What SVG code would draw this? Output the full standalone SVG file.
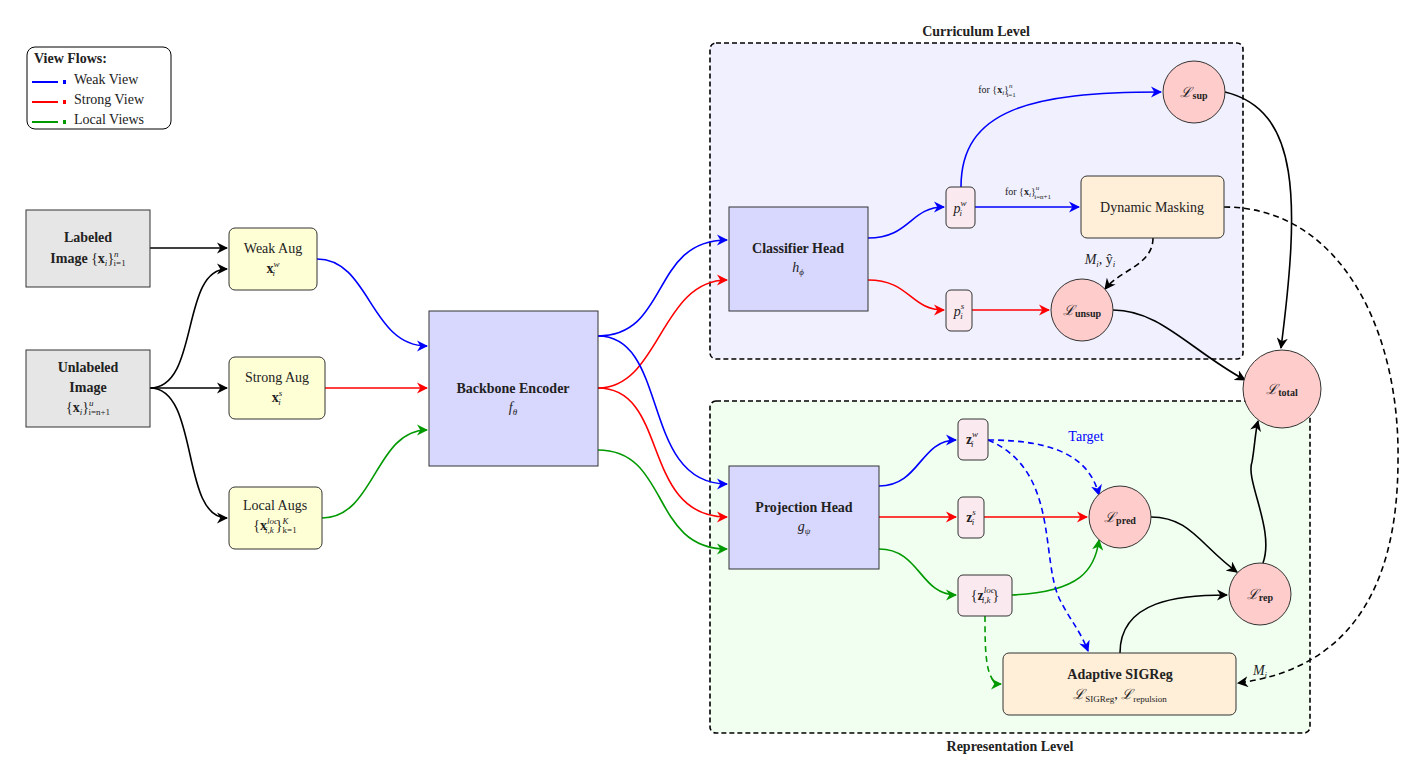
<svg xmlns="http://www.w3.org/2000/svg" width="1425" height="780" viewBox="0 0 1425 780">
<style>
text{font-family:"Liberation Serif","DejaVu Serif",serif;font-size:14px;fill:#222}
.b{font-weight:bold}
.i{font-style:italic}
.sm{font-size:10px}
.box{stroke:#333;stroke-width:1}
.c{fill:none;stroke-width:1.6}
.k{stroke:#000}.bl{stroke:#00f}.rd{stroke:#f00}.gr{stroke:#090}
.d{stroke-dasharray:6,4}
</style>
<defs>
<marker id="ak" viewBox="0 0 10 10" refX="9" refY="5" markerWidth="7" markerHeight="7" orient="auto"><path d="M0,0 L10,5 L0,10 L3,5z" fill="#000"/></marker>
<marker id="ab" viewBox="0 0 10 10" refX="9" refY="5" markerWidth="7" markerHeight="7" orient="auto"><path d="M0,0 L10,5 L0,10 L3,5z" fill="#00f"/></marker>
<marker id="ar" viewBox="0 0 10 10" refX="9" refY="5" markerWidth="7" markerHeight="7" orient="auto"><path d="M0,0 L10,5 L0,10 L3,5z" fill="#f00"/></marker>
<marker id="ag" viewBox="0 0 10 10" refX="9" refY="5" markerWidth="7" markerHeight="7" orient="auto"><path d="M0,0 L10,5 L0,10 L3,5z" fill="#090"/></marker>
</defs>
<rect width="1425" height="780" fill="#fff"/>
<g id="levels">
<rect x="710" y="43" width="533" height="316" rx="6" fill="#f0f0ff" stroke="#000" stroke-width="1.6" stroke-dasharray="5,3"/>
<text x="976" y="36" text-anchor="middle" class="b">Curriculum Level</text>
<rect x="710" y="401" width="600" height="332" rx="6" fill="#f0fff0" stroke="#000" stroke-width="1.6" stroke-dasharray="5,3"/>
<text x="1010" y="751" text-anchor="middle" class="b">Representation Level</text>
</g>
<g id="legend">
<rect x="27" y="47" width="144" height="82" rx="8" fill="#fff" stroke="#000"/>
<text x="34" y="63" class="b">View Flows:</text>
<line x1="32" y1="82" x2="58" y2="82" stroke="#00f" stroke-width="2"/><rect x="63" y="80" width="3" height="4" fill="#00f"/><text x="74" y="84">Weak View</text>
<line x1="32" y1="102" x2="58" y2="102" stroke="#f00" stroke-width="2"/><rect x="63" y="100" width="3" height="4" fill="#f00"/><text x="74" y="104">Strong View</text>
<line x1="32" y1="122" x2="58" y2="122" stroke="#090" stroke-width="2"/><rect x="63" y="120" width="3" height="4" fill="#090"/><text x="74" y="124">Local Views</text>
</g>
<g id="connectors">
<path class="c k" d="M150,248 H227" marker-end="url(#ak)"/>
<path class="c k" d="M150,388 C200,388 180,269 227,269" marker-end="url(#ak)"/>
<path class="c k" d="M150,388 H227" marker-end="url(#ak)"/>
<path class="c k" d="M150,388 C200,388 180,518 227,518" marker-end="url(#ak)"/>
<path class="c bl" d="M317,259 C370,259 370,346 427,346" marker-end="url(#ab)"/>
<path class="c rd" d="M325,388 H427" marker-end="url(#ar)"/>
<path class="c gr" d="M322,518 C375,518 375,430 427,430" marker-end="url(#ag)"/>
<path class="c bl" d="M598,336 C670,336 650,240 727,240" marker-end="url(#ab)"/>
<path class="c rd" d="M598,388 C660,388 660,280 727,280" marker-end="url(#ar)"/>
<path class="c bl" d="M598,336 C670,336 640,484 727,484" marker-end="url(#ab)"/>
<path class="c rd" d="M598,388 C670,388 640,517 727,517" marker-end="url(#ar)"/>
<path class="c gr" d="M598,450 C670,450 650,549 727,549" marker-end="url(#ag)"/>
<path class="c bl" d="M868,238 C910,238 910,207 944,207" marker-end="url(#ab)"/>
<path class="c rd" d="M868,280 C910,280 910,310 944,310" marker-end="url(#ar)"/>
<path class="c bl" d="M961,187 C961,110 1030,92 1161,92" marker-end="url(#ab)"/>
<path class="c bl" d="M975,207 H1079" marker-end="url(#ab)"/>
<path class="c rd" d="M972,310 H1049" marker-end="url(#ar)"/>
<path class="c k d" d="M1153,238 C1153,265 1120,270 1105,289" marker-end="url(#ak)"/>
<path class="c k" d="M1225,92 C1300,110 1300,200 1281,348" marker-end="url(#ak)"/>
<path class="c k" d="M1113,310 C1160,310 1190,350 1245,380" marker-end="url(#ak)"/>
<path class="c k d" d="M1224,207 C1340,207 1400,330 1398,460 C1398,600 1340,670 1238,683" marker-end="url(#ak)"/>
<path class="c bl" d="M879,486 C920,486 920,440 956,440" marker-end="url(#ab)"/>
<path class="c rd" d="M879,517 H956" marker-end="url(#ar)"/>
<path class="c gr" d="M879,549 C920,549 920,595 956,595" marker-end="url(#ag)"/>
<path class="c bl d" d="M988,440 C1060,440 1090,460 1099,495" marker-end="url(#ab)"/>
<path class="c rd" d="M984,517 H1087" marker-end="url(#ar)"/>
<path class="c gr" d="M1012,595 C1080,592 1095,570 1099,540" marker-end="url(#ag)"/>
<path class="c bl d" d="M988,440 C1060,470 1040,560 1060,600 C1070,620 1080,630 1088,651" marker-end="url(#ab)"/>
<path class="c gr d" d="M985,616 C985,650 985,684 1001,684" marker-end="url(#ag)"/>
<path class="c k" d="M1151,517 C1190,517 1200,545 1237,572" marker-end="url(#ak)"/>
<path class="c k" d="M1120,653 C1120,600 1180,595 1227,595" marker-end="url(#ak)"/>
<path class="c k" d="M1263,563 C1275,530 1245,480 1252,462 C1255,445 1255,433 1258,421" marker-end="url(#ak)"/>
<text x="997" y="93" text-anchor="middle" class="sm">for {<tspan class="b">x</tspan><tspan class="i" font-size="7" dy="2">i</tspan><tspan dy="-2">}</tspan><tspan class="i" font-size="7" dy="-5">n</tspan><tspan font-size="7" dy="9" dx="-6">i=1</tspan></text>
<text x="1028" y="195" text-anchor="middle" class="sm">for {<tspan class="b">x</tspan><tspan class="i" font-size="7" dy="2">i</tspan><tspan dy="-2">}</tspan><tspan class="i" font-size="7" dy="-5">u</tspan><tspan font-size="7" dy="9" dx="-5">i=n+1</tspan></text>
<text x="1100" y="264" text-anchor="middle" class="i">M<tspan font-size="9" dy="3">i</tspan><tspan font-style="normal" dy="-3">, ŷ</tspan><tspan font-size="9" dy="3">i</tspan></text>
<text x="1086" y="441" text-anchor="middle" fill="#00f" style="fill:#00f">Target</text>
<text x="1260" y="675" text-anchor="middle" class="i">M<tspan font-size="9" dy="3">i</tspan></text>
</g>
<g id="labeled"><rect x="26" y="210" width="124" height="77" fill="#e6e6e6" class="box"/>
<text x="88" y="242" text-anchor="middle" class="b">Labeled</text>
<text x="88" y="263" text-anchor="middle"><tspan class="b">Image </tspan>{<tspan class="b">x</tspan><tspan class="i" font-size="9" dy="3">i</tspan><tspan dy="-3">}</tspan><tspan class="i" font-size="9" dy="-6">n</tspan><tspan font-size="9" dy="9" dx="-5">i=1</tspan></text></g>
<g id="unlabeled"><rect x="26" y="350" width="124" height="77" fill="#e6e6e6" class="box"/>
<text x="88" y="372" text-anchor="middle" class="b">Unlabeled</text>
<text x="88" y="392" text-anchor="middle" class="b">Image</text>
<text x="88" y="412" text-anchor="middle">{<tspan class="b">x</tspan><tspan class="i" font-size="9" dy="3">i</tspan><tspan dy="-3">}</tspan><tspan class="i" font-size="9" dy="-6">u</tspan><tspan font-size="9" dy="9" dx="-5">i=n+1</tspan></text></g>
<g id="weakaug"><rect x="229" y="228" width="88" height="62" rx="6" fill="#ffffd6" class="box"/>
<text x="273" y="253" text-anchor="middle">Weak Aug</text>
<text x="273" y="273" text-anchor="middle"><tspan class="b">x</tspan><tspan class="i" font-size="9" dy="-6">w</tspan><tspan class="i" font-size="9" dy="9" dx="-7">i</tspan></text></g>
<g id="strongaug"><rect x="229" y="357" width="96" height="62" rx="6" fill="#ffffd6" class="box"/>
<text x="277" y="382" text-anchor="middle">Strong Aug</text>
<text x="277" y="402" text-anchor="middle"><tspan class="b">x</tspan><tspan class="i" font-size="9" dy="-6">s</tspan><tspan class="i" font-size="9" dy="9" dx="-4">i</tspan></text></g>
<g id="localaugs"><rect x="229" y="487" width="93" height="62" rx="6" fill="#ffffd6" class="box"/>
<text x="275" y="510" text-anchor="middle">Local Augs</text>
<text x="275" y="530" text-anchor="middle">{<tspan class="b">x</tspan><tspan class="i" font-size="9" dy="-6">loc</tspan><tspan class="i" font-size="9" dy="9" dx="-13">i,k</tspan><tspan dy="-3" dx="2">}</tspan><tspan class="i" font-size="9" dy="-6">K</tspan><tspan font-size="9" dy="9" dx="-6">k=1</tspan></text></g>
<g id="backbone"><rect x="429" y="311" width="169" height="155" fill="#d8d8ff" class="box"/>
<text x="513" y="393" text-anchor="middle" class="b">Backbone Encoder</text>
<text x="513" y="412" text-anchor="middle" class="i">f<tspan font-size="9" dy="3">θ</tspan></text></g>
<g id="classifier"><rect x="729" y="207" width="139" height="104" fill="#d8d8ff" class="box"/>
<text x="798" y="253" text-anchor="middle" class="b">Classifier Head</text>
<text x="798" y="272" text-anchor="middle" class="i">h<tspan font-size="9" dy="3">ϕ</tspan></text></g>
<g id="projection"><rect x="729" y="466" width="150" height="103" fill="#d8d8ff" class="box"/>
<text x="804" y="512" text-anchor="middle" class="b">Projection Head</text>
<text x="804" y="531" text-anchor="middle" class="i">g<tspan font-size="9" dy="3">ψ</tspan></text></g>
<g id="pw"><rect x="946" y="187" width="29" height="41" rx="5" fill="#fbe9f0" class="box"/>
<text x="960" y="213" text-anchor="middle" class="i">p<tspan font-size="9" dy="-7">w</tspan><tspan font-size="9" dy="10" dx="-7">i</tspan></text></g>
<g id="ps"><rect x="946" y="290" width="26" height="41" rx="5" fill="#fbe9f0" class="box"/>
<text x="959" y="316" text-anchor="middle" class="i">p<tspan font-size="9" dy="-7">s</tspan><tspan font-size="9" dy="10" dx="-4">i</tspan></text></g>
<g id="masking"><rect x="1081" y="176" width="143" height="62" rx="6" fill="#ffeed8" class="box"/>
<text x="1152" y="212" text-anchor="middle">Dynamic Masking</text></g>
<g id="lsup"><circle cx="1194" cy="92" r="31" fill="#ffcccc" class="box"/>
<text x="1194" y="97" text-anchor="middle"><tspan class="i">ℒ</tspan><tspan class="b" font-size="10" dy="2">sup</tspan></text></g>
<g id="lunsup"><circle cx="1082" cy="310" r="31" fill="#ffcccc" class="box"/>
<text x="1082" y="315" text-anchor="middle"><tspan class="i">ℒ</tspan><tspan class="b" font-size="10" dy="2">unsup</tspan></text></g>
<g id="ltotal"><circle cx="1282" cy="389" r="39" fill="#ffcccc" class="box"/>
<text x="1282" y="394" text-anchor="middle"><tspan class="i">ℒ</tspan><tspan class="b" font-size="10" dy="2">total</tspan></text></g>
<g id="zw"><rect x="958" y="419" width="30" height="41" rx="5" fill="#fbe9f0" class="box"/>
<text x="972" y="444" text-anchor="middle"><tspan class="b">z</tspan><tspan class="i" font-size="9" dy="-7">w</tspan><tspan class="i" font-size="9" dy="10" dx="-7">i</tspan></text></g>
<g id="zs"><rect x="958" y="497" width="26" height="41" rx="5" fill="#fbe9f0" class="box"/>
<text x="971" y="522" text-anchor="middle"><tspan class="b">z</tspan><tspan class="i" font-size="9" dy="-7">s</tspan><tspan class="i" font-size="9" dy="10" dx="-4">i</tspan></text></g>
<g id="zloc"><rect x="958" y="575" width="54" height="41" rx="5" fill="#fbe9f0" class="box"/>
<text x="985" y="600" text-anchor="middle">{<tspan class="b">z</tspan><tspan class="i" font-size="9" dy="-7">loc</tspan><tspan class="i" font-size="9" dy="10" dx="-13">i,k</tspan><tspan dy="-3" dx="2">}</tspan></text></g>
<g id="lpred"><circle cx="1120" cy="517" r="31" fill="#ffcccc" class="box"/>
<text x="1120" y="522" text-anchor="middle"><tspan class="i">ℒ</tspan><tspan class="b" font-size="10" dy="2">pred</tspan></text></g>
<g id="lrep"><circle cx="1260" cy="594" r="31" fill="#ffcccc" class="box"/>
<text x="1260" y="599" text-anchor="middle"><tspan class="i">ℒ</tspan><tspan class="b" font-size="10" dy="2">rep</tspan></text></g>
<g id="sigreg"><rect x="1003" y="653" width="233" height="62" rx="6" fill="#ffeed8" class="box"/>
<text x="1120" y="679" text-anchor="middle" class="b">Adaptive SIGReg</text>
<text x="1120" y="699" text-anchor="middle"><tspan class="i">ℒ</tspan><tspan font-size="9" dy="3">SIGReg</tspan><tspan dy="-3">, </tspan><tspan class="i">ℒ</tspan><tspan font-size="9" dy="3">repulsion</tspan></text></g>
</svg>
